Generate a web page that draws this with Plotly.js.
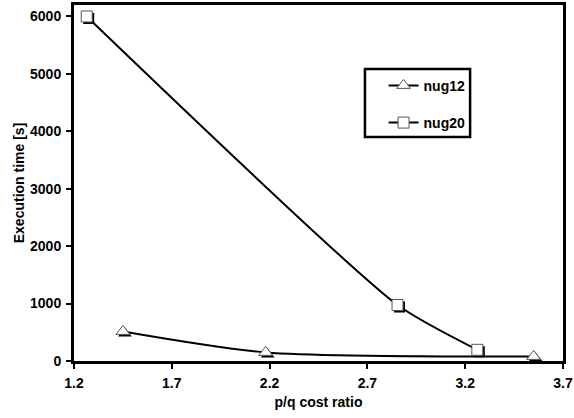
<!DOCTYPE html>
<html>
<head>
<meta charset="utf-8">
<script src="https://cdn.plot.ly/plotly-3.0.1.min.js"></script>
<style>html,body{margin:0;padding:0;background:#fff;}#chart{width:574px;height:418px;}</style>
</head>
<body>
<div id="chart"></div>
<script>
var nug12X = [1.45, 2.18, 3.55];
var nug12Y = [515, 150, 80];
var nug20X = [1.265, 2.854, 3.262];
var nug20Y = [6000, 975, 195];
var seriesNames = ["nug12", "nug20"];
var xTicks = [1.2, 1.7, 2.2, 2.7, 3.2, 3.7];
var yTicks = [0, 1000, 2000, 3000, 4000, 5000, 6000];

var FAM = "Liberation Sans, Arial, sans-serif";
var boldFont = function(s){ return {family: FAM, size: s, color: "#000", weight: 700}; };

var xRange = [1.2, 3.7], yRange = [0, 6200];
// plot area is 489 x 356 px; shadow offset of 2 px right / 2 px down
var dx = 2 * (xRange[1] - xRange[0]) / 489;
var dy = 2 * (yRange[1] - yRange[0]) / 356;

var traces = [
  {x: nug12X, y: nug12Y, type: "scatter", mode: "markers", showlegend: false, xaxis: "x", yaxis: "y",
   marker: {symbol: "triangle-up", size: 12, color: "#000", line: {width: 0}}},
  {x: nug20X, y: nug20Y, type: "scatter", mode: "markers", showlegend: false, xaxis: "x", yaxis: "y",
   marker: {symbol: "square", size: 11, color: "#000", line: {width: 0}}},
  {x: nug12X, y: nug12Y, name: seriesNames[0], type: "scatter", mode: "lines+markers", xaxis: "x2", yaxis: "y2",
   line: {color: "#000", width: 2, shape: "spline", smoothing: 0.7},
   marker: {symbol: "triangle-up", size: 12, color: "#fff", line: {color: "#555", width: 1}},
   legendgroup: "a"},
  {x: nug20X, y: nug20Y, name: seriesNames[1], type: "scatter", mode: "lines+markers", xaxis: "x2", yaxis: "y2",
   line: {color: "#000", width: 2, shape: "spline", smoothing: 0.6},
   marker: {symbol: "square", size: 11, color: "#fff", line: {color: "#555", width: 1}},
   legendgroup: "b"}
];

var layout = {
  width: 574, height: 418,
  margin: {l: 74, r: 11, t: 5, b: 57},
  paper_bgcolor: "#fff", plot_bgcolor: "#fff",
  font: {family: FAM, size: 12, color: "#000"},
  showlegend: true,
  legend: {x: 0.633, y: 0.818, xanchor: "left", yanchor: "top",
           borderwidth: 0, bgcolor: "rgba(0,0,0,0)",
           font: boldFont(14), tracegroupgap: 16, itemwidth: 30},
  shapes: [
    {type: "rect", xref: "paper", yref: "paper", x0: 0.595, x1: 0.81, y0: 0.629, y1: 0.820,
     line: {color: "#000", width: 2.5}, fillcolor: "rgba(0,0,0,0)", layer: "below"}
  ],
  xaxis: {range: [xRange[0] - dx, xRange[1] - dx], visible: false, fixedrange: true},
  yaxis: {range: [yRange[0] + dy, yRange[1] + dy], visible: false, fixedrange: true},
  xaxis2: {overlaying: "x", range: xRange, tickvals: xTicks, ticktext: xTicks.map(function(v){return v.toFixed(1);}),
          showgrid: false, zeroline: false, showline: true, linecolor: "#000", linewidth: 3, mirror: true,
          ticks: "outside", ticklen: 5, tickwidth: 2, tickcolor: "#000", ticklabelstandoff: 2,
          tickfont: boldFont(14),
          title: {text: "p/q cost ratio", standoff: 8, font: boldFont(14)}},
  yaxis2: {overlaying: "y", range: yRange, tickvals: yTicks, ticktext: yTicks.map(String),
          showgrid: false, zeroline: false, showline: true, linecolor: "#000", linewidth: 3, mirror: true,
          ticks: "outside", ticklen: 5, tickwidth: 2, tickcolor: "#000", ticklabelstandoff: 2,
          tickfont: boldFont(14),
          title: {text: "Execution time [s]", standoff: 3, font: boldFont(14)}}
};

Plotly.newPlot("chart", traces, layout, {displayModeBar: false, staticPlot: true});
</script>
</body>
</html>
